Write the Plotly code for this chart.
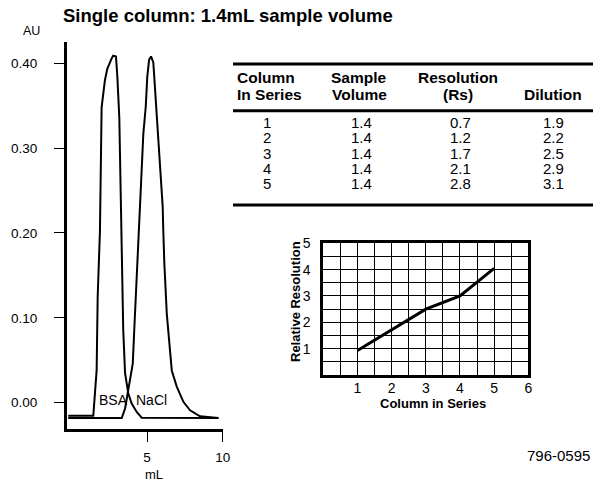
import plotly.graph_objects as go

W, H = 596, 482
FONT = "Liberation Sans, Arial, sans-serif"
INK = "#000000"

# chromatogram traces (mL, AU)
bsa_ml = [-0.22, 1.44, 1.66, 1.73, 1.88, 1.99, 2.21, 2.36, 2.66, 2.76, 2.94, 3.03,
          3.16, 3.32, 3.36, 3.42, 3.54, 3.75, 3.98, 4.31, 4.64, 9.72]
bsa_au = [-0.0153, -0.0153, 0.038, 0.125, 0.203, 0.348, 0.380, 0.393, 0.406, 0.409,
          0.408, 0.384, 0.336, 0.200, 0.164, 0.086, 0.035, 0.011, -0.001, -0.011,
          -0.0176, -0.018]
nacl_ml = [-0.22, 3.32, 3.54, 3.75, 4.05, 4.15, 4.25, 4.35, 4.48, 4.58, 4.75, 4.91,
           5.01, 5.13, 5.26, 5.41, 5.52, 5.68, 5.85, 6.03, 6.07, 6.14, 6.30, 6.47,
           6.63, 6.96, 7.40, 7.84, 8.50, 9.72]
nacl_au = [-0.018, -0.018, -0.007, 0.015, 0.046, 0.086, 0.125, 0.164, 0.203, 0.239,
           0.317, 0.349, 0.384, 0.404, 0.408, 0.401, 0.372, 0.317, 0.278, 0.231,
           0.203, 0.164, 0.105, 0.066, 0.038, 0.019, 0.001, -0.009, -0.016, -0.018]
au_ticks = [0.0, 0.1, 0.2, 0.3, 0.4]
ml_ticks = [5, 10]

# table
header_top = ["Column", "Sample", "Resolution", ""]
header_bot = ["In Series", "Volume", "(Rs)", "Dilution"]
column_in_series = [1, 2, 3, 4, 5]
sample_volume = [1.4, 1.4, 1.4, 1.4, 1.4]
resolution_rs = [0.7, 1.2, 1.7, 2.1, 2.8]
dilution = [1.9, 2.2, 2.5, 2.9, 3.1]

# inset
rel_res = [0.93, 1.70, 2.50, 3.00, 4.05]
inset_xticks = [1, 2, 3, 4, 5, 6]
inset_yticks = [1, 2, 3, 4, 5]


def px(x):
    return x / W


def py(y):
    return 1 - y / H


fig = go.Figure()
fig.add_trace(go.Scatter(x=bsa_ml, y=bsa_au, mode="lines", line=dict(color=INK, width=2),
                         name="BSA", xaxis="x", yaxis="y"))
fig.add_trace(go.Scatter(x=nacl_ml, y=nacl_au, mode="lines", line=dict(color=INK, width=2),
                         name="NaCl", xaxis="x", yaxis="y"))
fig.add_trace(go.Scatter(x=column_in_series, y=rel_res, mode="lines",
                         line=dict(color=INK, width=3), name="Relative Resolution",
                         xaxis="x2", yaxis="y2"))

ann = []


def text(x, y, s, size, bold=False, xanchor="center", **kw):
    ann.append(dict(x=x, y=y, xref=kw.pop("xref", "paper"), yref=kw.pop("yref", "paper"),
                    text=f"<b>{s}</b>" if bold else s, showarrow=False,
                    xanchor=xanchor, yanchor="middle",
                    font=dict(family=FONT, size=size, color=INK), **kw))


text(px(61), py(16), "Single column: 1.4mL sample volume", 18.5, bold=True, xanchor="left")
text(px(31), py(31.5), "AU", 12.5)
text(px(154), py(474), "mL", 13)
text(1.66, 0.0035, "BSA", 14, xanchor="left", xref="x", yref="y")
text(4.13, 0.0035, "NaCl", 14, xanchor="left", xref="x", yref="y")
text(px(592), py(455), "796-0595", 15, xanchor="right")

# table text
hdr_x = [235, 359, 458, 553]
hdr_anchor = ["left", "center", "center", "center"]
for hx, ha, t, b in zip(hdr_x, hdr_anchor, header_top, header_bot):
    if t:
        text(px(hx), py(77), t, 15.5, bold=True, xanchor=ha)
    text(px(hx), py(94.5), b, 15.5, bold=True, xanchor=ha)

col_x = [267, 361, 460, 553]
row_y0, row_dy = 122.7, 15.15
for i in range(len(column_in_series)):
    yy = py(row_y0 + i * row_dy)
    vals = [f"{column_in_series[i]}", f"{sample_volume[i]:.1f}",
            f"{resolution_rs[i]:.1f}", f"{dilution[i]:.1f}"]
    for cx, v in zip(col_x, vals):
        text(px(cx), yy, v, 15)

# inset axis titles
text(px(432.5), py(403.5), "Column in Series", 13, bold=True)
ann.append(dict(x=px(295), y=py(302), xref="paper", yref="paper",
                text="<b>Relative Resolution</b>", showarrow=False, textangle=-90,
                font=dict(family=FONT, size=13, color=INK)))

shapes = [dict(type="line", xref="paper", yref="paper", x0=px(233), x1=px(593),
               y0=py(yy), y1=py(yy), line=dict(color=INK, width=3))
          for yy in (64, 110.7, 205)]

fig.update_layout(
    width=W, height=H, template="none",
    paper_bgcolor="white", plot_bgcolor="white",
    margin=dict(l=0, r=0, t=0, b=0), showlegend=False,
    font=dict(family=FONT, size=13, color=INK),
    annotations=ann, shapes=shapes,
    xaxis=dict(domain=[px(66.7), px(222.7)], range=[-0.32, 10], tickvals=ml_ticks,
               ticks="outside", ticklen=10, tickwidth=1, tickcolor=INK,
               tickfont=dict(size=13.5), ticklabelstandoff=4,
               showline=True, linewidth=2.5, linecolor=INK,
               showgrid=False, zeroline=False, anchor="y"),
    yaxis=dict(domain=[py(429), py(42)], range=[-0.031, 0.425], tickvals=au_ticks,
               tickformat=".2f", ticks="outside", ticklen=10, tickwidth=1, tickcolor=INK,
               tickfont=dict(size=13.5), ticklabelstandoff=14,
               showline=True, linewidth=2.5, linecolor=INK,
               showgrid=False, zeroline=False, anchor="x"),
    xaxis2=dict(domain=[px(323.3), px(528.3)], range=[0, 6], tickvals=inset_xticks,
                ticks="", tickfont=dict(size=14), ticklabelstandoff=-2,
                showgrid=True, gridcolor=INK, gridwidth=1,
                minor=dict(dtick=0.5, showgrid=True, gridcolor=INK, gridwidth=1),
                showline=True, mirror=True, linewidth=3, linecolor=INK,
                zeroline=False, anchor="y2"),
    yaxis2=dict(domain=[py(375), py(243.3)], range=[0, 5], tickvals=inset_yticks,
                ticks="", tickfont=dict(size=14), ticklabelstandoff=7,
                showgrid=True, gridcolor=INK, gridwidth=1,
                minor=dict(dtick=0.5, showgrid=True, gridcolor=INK, gridwidth=1),
                showline=True, mirror=True, linewidth=3, linecolor=INK,
                zeroline=False, anchor="x2"),
)

# drop the page's default body margin so the figure sits at the window's corner
fig.write_html("out.html", config={"displayModeBar": False},
               post_script="document.body.style.margin='0';")
